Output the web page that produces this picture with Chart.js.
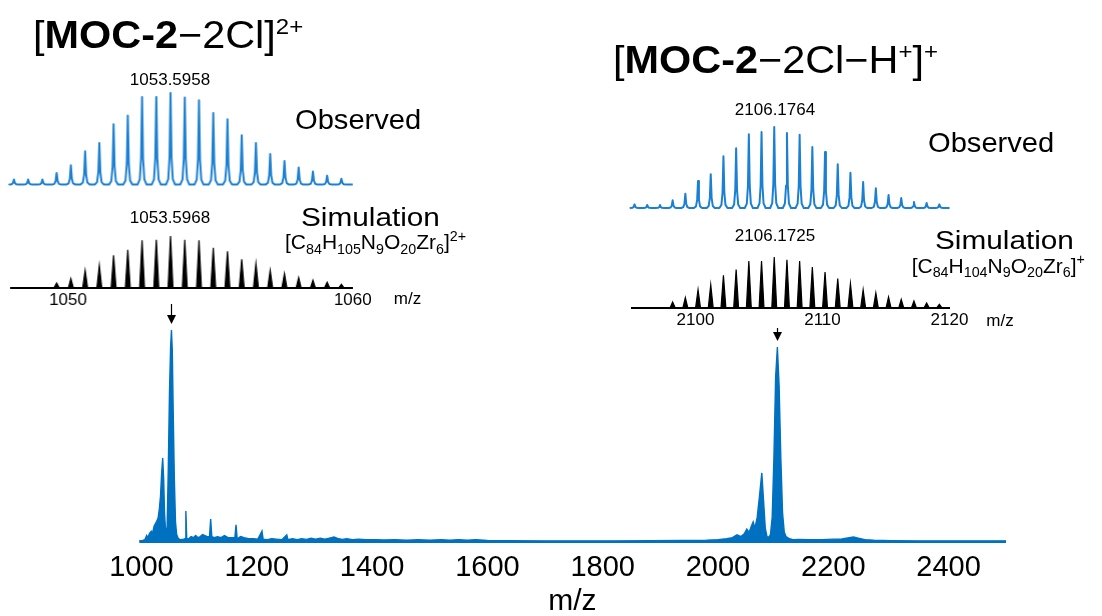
<!DOCTYPE html>
<html>
<head>
<meta charset="utf-8">
<script src="https://cdn.jsdelivr.net/npm/chart.js@4.4.0/dist/chart.umd.min.js"></script>
<style>
body { margin: 0; background: #fff; }
#wrap { position: relative; width: 1102px; height: 616px; overflow: hidden; font-family: 'Liberation Sans', Arial, sans-serif; color: #000; }
.box { position: absolute; }
.t { position: absolute; line-height: 1; white-space: nowrap; transform-origin: 0 0; }
.t sub, .t sup { font-size: 0.68em; line-height: 0; position: relative; vertical-align: baseline; }
.t sub { top: 0.32em; }
.t sup { top: -0.6em; }
.t sup.big { font-size: 0.58em; top: -0.62em; }
.c { text-align: center; width: 200px; }
</style>
</head>
<body>
<div id="wrap">
  <div class="box" style="left:0;top:0;width:1102px;height:616px"><canvas id="main"></canvas></div>
  <div class="box" id="obsL"><canvas></canvas></div>
  <div class="box" id="simL"><canvas></canvas></div>
  <div class="box" id="obsR"><canvas></canvas></div>
  <div class="box" id="simR"><canvas></canvas></div>

  <div class="t" style="left:33px;top:15.8px;font-size:38px;transform:scaleX(1.09)">[<b>MOC-2</b>−2Cl]<sup class="big">2+</sup></div>
  <div class="t" style="left:613px;top:40.5px;font-size:38px;transform:scaleX(1.09)">[<b>MOC-2</b>−2Cl−H<sup class="big">+</sup>]<sup class="big">+</sup></div>

  <div class="t c" style="left:70px;top:70.7px;font-size:17px">1053.5958</div>
  <div class="t c" style="left:70px;top:209.4px;font-size:17px">1053.5968</div>
  <div class="t c" style="left:675px;top:100.7px;font-size:17px">2106.1764</div>
  <div class="t c" style="left:675px;top:226.7px;font-size:17px">2106.1725</div>

  <div class="t" style="left:295px;top:106.3px;font-size:28px;transform:scaleX(1.04)">Observed</div>
  <div class="t" style="left:928px;top:129.3px;font-size:28px;transform:scaleX(1.04)">Observed</div>

  <div class="t" style="left:300.7px;top:204.5px;font-size:25px;transform:scaleX(1.19)">Simulation</div>
  <div class="t" style="left:935px;top:228.1px;font-size:25px;transform:scaleX(1.19)">Simulation</div>

  <div class="t" style="left:285px;top:231.2px;font-size:21px">[C<sub>84</sub>H<sub>105</sub>N<sub>9</sub>O<sub>20</sub>Zr<sub>6</sub>]<sup>2+</sup></div>
  <div class="t" style="left:911.7px;top:254.9px;font-size:21px">[C<sub>84</sub>H<sub>104</sub>N<sub>9</sub>O<sub>20</sub>Zr<sub>6</sub>]<sup>+</sup></div>

  <div class="t c" style="left:307.5px;top:289.7px;font-size:17px">m/z</div>
  <div class="t c" style="left:900px;top:311.7px;font-size:17px">m/z</div>
</div>
<script>
// full spectrum
const spectrumMz = [996, 1002, 1006, 1009, 1011, 1014, 1017, 1019, 1022, 1025, 1027, 1029, 1031, 1033, 1035, 1036.8, 1038.5, 1040, 1041.5, 1043,
    1044.5, 1046.5, 1048.5, 1050.5, 1052, 1053.5, 1055, 1057, 1059, 1061, 1064, 1068, 1073, 1075.5, 1077, 1078.5, 1082, 1086, 1090, 1094,
    1098, 1102, 1106, 1110, 1114, 1118, 1120, 1122, 1126, 1132, 1138, 1144, 1150, 1156, 1162, 1164, 1166, 1172, 1178, 1186,
    1194, 1202, 1209, 1211, 1218, 1226, 1234, 1244, 1252, 1254, 1262, 1270, 1278, 1286, 1294, 1302, 1310, 1318, 1326, 1334,
    1340, 1348, 1356, 1366, 1376, 1390, 1405, 1420, 1440, 1460, 1480, 1500, 1520, 1535, 1550, 1565, 1580, 1600, 1640, 1700,
    1760, 1820, 1880, 1940, 1980, 2000, 2015, 2025, 2033, 2040, 2046, 2050, 2054, 2058, 2061, 2064, 2068, 2072, 2076, 2079,
    2082, 2085, 2088, 2091, 2094, 2097, 2100, 2103, 2106, 2109, 2112, 2115, 2118, 2124, 2130, 2140, 2160, 2180, 2200, 2215,
    2225, 2235, 2245, 2255, 2270, 2300, 2350, 2400, 2450, 2500];
const spectrumInt = [1, 1.2, 1.6, 3.5, 2.5, 4.5, 5.5, 4.5, 8, 9.5, 10.5, 12, 16, 22, 33, 39.9, 30, 14, 7, 4,
    8, 35, 70, 92, 100, 90, 62, 30, 10, 4, 2, 1.5, 1.8, 2, 15, 2, 2, 3, 2.5, 3.5,
    2.5, 3, 4, 3.5, 3, 3, 11.3, 3, 2.5, 3, 2.5, 3.5, 2.5, 2.5, 2.5, 8.5, 2, 3, 2.5, 2,
    2, 1.8, 5.6, 1.8, 1.6, 2, 1.8, 1.6, 3.8, 1.6, 2, 1.6, 2, 1.7, 2.2, 1.8, 2.2, 1.8, 2.3, 2.8,
    2.2, 1.7, 2, 1.6, 1.8, 1.5, 1.6, 1.4, 1.5, 1.3, 1.5, 1.3, 1.6, 1.3, 1.6, 1.3, 1.6, 1.2, 1.1, 1,
    1, 1, 1.1, 1.2, 1.3, 1.6, 2, 2.5, 3.8, 3, 4.5, 6.5, 5, 8, 9.9, 7, 12, 22, 32.9, 20,
    7, 3, 2.5, 4, 12, 40, 78, 92, 74, 40, 14, 5, 3, 2, 1.6, 1.7, 1.5, 1.6, 1.8, 1.9,
    2.4, 2.8, 2.2, 1.6, 1.3, 1.1, 1, 1, 1, 1];
const mainTicks = [1000, 1200, 1400, 1600, 1800, 2000, 2200, 2400];
const arrowMz = [1052, 2103];
const arrowLen = [20, 13];

// isotope patterns (insets)
const obsLeftMz = [1048.1, 1048.6, 1049.1, 1049.6, 1050.1, 1050.6, 1051.1, 1051.6, 1052.1, 1052.6, 1053.1, 1053.6,
    1054.1, 1054.6, 1055.1, 1055.6, 1056.1, 1056.6, 1057.1, 1057.6, 1058.1, 1058.6, 1059.1, 1059.6];
const obsLeftInt = [5.5, 5.5, 5.5, 12.7, 21, 36.4, 45.4, 65.8, 75.3, 95.6, 95.6, 100,
    95, 92, 78.2, 71.3, 53.8, 45.4, 33.4, 25.8, 18.6, 14.2, 9.8, 6.5];
const simLeftMz = [1049.6, 1050.1, 1050.6, 1051.1, 1051.6, 1052.1, 1052.6, 1053.1, 1053.6, 1054.1, 1054.6,
    1055.1, 1055.6, 1056.1, 1056.6, 1057.1, 1057.6, 1058.1, 1058.6, 1059.1, 1059.6];
const simLeftInt = [9, 17.4, 33.5, 43.2, 62.6, 73.5, 91.6, 92.9, 100, 92.9, 91.6,
    77.4, 70.3, 54.8, 46.5, 33.5, 27.1, 19.4, 14.2, 10.3, 6.5];
const obsRightMz = [2095.2, 2096.2, 2097.2, 2098.2, 2099.2, 2100.2, 2101.2, 2102.2, 2103.2, 2104.2, 2105.2, 2106.2,
    2107.2, 2108.2, 2109.2, 2110.2, 2111.2, 2112.2, 2113.2, 2114.2, 2115.2, 2116.2, 2117.2, 2118.2, 2119.2];
const obsRightInt = [4.5, 3.7, 3.7, 9.5, 17.7, 33.3, 41.6, 63.8, 73.7, 90.9, 93.8, 100,
    92.6, 90.5, 75.3, 69.1, 53.9, 43.6, 32.1, 24.3, 16, 12.3, 7.4, 6.2, 4.5];
const simRightMz = [2098.2, 2099.2, 2100.2, 2101.2, 2102.2, 2103.2, 2104.2, 2105.2, 2106.2, 2107.2, 2108.2,
    2109.2, 2110.2, 2111.2, 2112.2, 2113.2, 2114.2, 2115.2, 2116.2, 2117.2, 2118.2, 2119.2];
const simRightInt = [11.2, 19.7, 35.5, 45.4, 63.8, 75, 92.1, 92.1, 100, 94.7, 92.1,
    80.3, 70.4, 57.2, 47.4, 35.5, 28.9, 21, 16.4, 13.2, 9.2, 6.6];
const leftTicks = [1050, 1060];
const rightTicks = [2100, 2110, 2120];

const BLUE = '#0070c0';
const BLUE_LIGHT = '#1c80d2';
Chart.defaults.font.family = "'Liberation Sans', Arial, sans-serif";
Chart.defaults.color = '#000';

const arrowPlugin = {
    id: 'arrows',
    afterDatasetsDraw(chart) {
        const {ctx, scales: {x, y}} = chart;
        arrowMz.forEach((mz, i) => {
            // tip sits just above the tallest point of that peak
            const k = spectrumMz.indexOf(mz);
            const px = Math.round(x.getPixelForValue(mz)) + 0.5;
            const tip = y.getPixelForValue(spectrumInt[k]) - 6;
            ctx.save();
            ctx.strokeStyle = '#000';
            ctx.fillStyle = '#000';
            ctx.lineWidth = 1.2;
            ctx.beginPath();
            ctx.moveTo(px, tip - arrowLen[i]);
            ctx.lineTo(px, tip - 8);
            ctx.stroke();
            ctx.beginPath();
            ctx.moveTo(px - 4.5, tip - 9);
            ctx.lineTo(px + 4.5, tip - 9);
            ctx.lineTo(px, tip);
            ctx.closePath();
            ctx.fill();
            ctx.restore();
        });
    }
};

new Chart(document.getElementById('main'), {
    type: 'line',
    data: {
        datasets: [{
            data: spectrumMz.map((m, i) => ({x: m, y: spectrumInt[i]})),
            borderColor: BLUE,
            backgroundColor: BLUE,
            borderWidth: 1.4,
            fill: 'origin',
            pointRadius: 0,
            tension: 0,
        }]
    },
    options: {
        responsive: true,
        maintainAspectRatio: false,
        animation: false,
        layout: {padding: {left: 138.6, right: 95.75, top: 308.7, bottom: 0}},
        plugins: {legend: {display: false}, tooltip: {enabled: false}},
        scales: {
            x: {
                type: 'linear', min: 995, max: 2500,
                grid: {display: false, drawTicks: false},
                border: {display: false},
                afterBuildTicks: s => { s.ticks = mainTicks.map(v => ({value: v})); },
                afterFit: s => { s.height = 73; },
                ticks: {font: {size: 29}, padding: 8, maxRotation: 0, autoSkip: false, callback: v => String(v)},
                title: {display: true, text: 'm/z', font: {size: 30}, padding: {top: 0, bottom: -4}},
            },
            y: {display: false, min: 0, max: 110}
        }
    },
    plugins: [arrowPlugin]
});

// peak outlines drawn around each stick value
const obsShape = [[-1, 0], [-0.5, 0.06], [-0.22, 0.3], [0, 1], [0.22, 0.3], [0.5, 0.06], [1, 0]];
const simShape = [[-1, 0], [0, 1], [1, 0]];

function peakPoints(mz, inten, w, shape) {
    const pts = [];
    mz.forEach((c, i) => {
        shape.forEach(([dx, f]) => pts.push({x: c + dx * w, y: f * inten[i]}));
    });
    return pts;
}

function inset(id, area, xMin, xMax, points, opts) {
    const padX = 30, padY = 6;
    const axisH = opts.ticks ? 26 : 0;
    const box = document.getElementById(id);
    box.style.left = (area.x - padX) + 'px';
    box.style.top = (area.y - padY) + 'px';
    box.style.width = (area.w + 2 * padX) + 'px';
    box.style.height = (area.h + padY + (opts.ticks ? axisH : padY)) + 'px';
    points = [{x: xMin, y: 0}].concat(points, [{x: xMax, y: 0}]);
    new Chart(box.querySelector('canvas'), {
        type: 'line',
        data: {
            datasets: [{
                data: points,
                borderColor: opts.color,
                backgroundColor: opts.color,
                borderWidth: opts.lineWidth,
                borderJoinStyle: opts.fill ? 'miter' : 'round',
                fill: opts.fill ? 'origin' : false,
                pointRadius: 0,
                tension: 0,
                clip: false,
            }]
        },
        options: {
            responsive: true,
            maintainAspectRatio: false,
            animation: false,
            layout: {padding: {left: padX, right: padX, top: padY, bottom: opts.ticks ? 0 : padY}},
            plugins: {legend: {display: false}, tooltip: {enabled: false}},
            scales: {
                x: {
                    type: 'linear', min: xMin, max: xMax,
                    display: !!opts.ticks,
                    grid: {display: false, drawTicks: false},
                    border: {display: true, color: '#000', width: 2},
                    afterBuildTicks: s => { if (opts.ticks) s.ticks = opts.ticks.map(v => ({value: v})); },
                    afterFit: s => { s.height = axisH; },
                    ticks: {font: {size: 17}, padding: 3, maxRotation: 0, autoSkip: false, callback: v => String(v)},
                },
                y: {display: false, min: 0, max: 100}
            }
        }
    });
}

inset('obsL', {x: 11.2, y: 92.7, w: 340.8, h: 91.6}, 1048, 1060,
    peakPoints(obsLeftMz, obsLeftInt, 0.16, obsShape), {color: BLUE_LIGHT, lineWidth: 2});
inset('simL', {x: 11.2, y: 235.7, w: 340.8, h: 51.6}, 1048, 1060,
    peakPoints(simLeftMz, simLeftInt, 0.085, simShape), {color: '#000', lineWidth: 1.2, fill: true, ticks: leftTicks});
inset('obsR', {x: 631.7, y: 126.7, w: 317.5, h: 81}, 2095, 2120,
    peakPoints(obsRightMz, obsRightInt, 0.32, obsShape), {color: BLUE_LIGHT, lineWidth: 2});
inset('simR', {x: 631.7, y: 256.7, w: 317.5, h: 50.6}, 2095, 2120,
    peakPoints(simRightMz, simRightInt, 0.19, simShape), {color: '#000', lineWidth: 1.2, fill: true, ticks: rightTicks});
</script>
</body>
</html>
